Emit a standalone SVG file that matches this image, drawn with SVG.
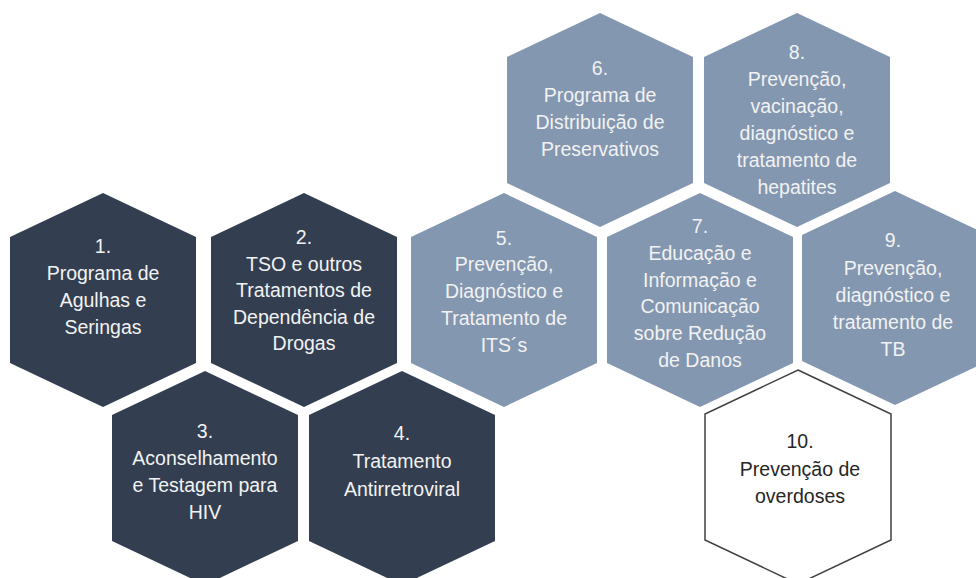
<svg xmlns="http://www.w3.org/2000/svg" xmlns:xlink="http://www.w3.org/1999/xlink" width="976" height="578" viewBox="0 0 976 578">
<defs>
<polygon id="hex" points="0,-107 93,-63 93,63 0,107 -93,63 -93,-63"/>
<style>
.dark{fill:#333f50}
.light{fill:#8497b0}
.open{fill:#ffffff;stroke:#404040;stroke-width:1.5}
text{font-family:"Liberation Sans",Arial,sans-serif;font-size:19.5px;text-anchor:middle}
.tl{fill:#f2f2f2}
.td{fill:#262626}
</style>
</defs>
<rect width="976" height="578" fill="#ffffff"/>
<g id="connectors"></g>
<g id="node1">
<use xlink:href="#hex" href="#hex" class="dark" transform="translate(103,300)"/>
<text class="tl"><tspan x="103" y="253">1.</tspan><tspan x="103" y="280">Programa de</tspan><tspan x="103" y="307">Agulhas e</tspan><tspan x="103" y="334">Seringas</tspan></text>
</g>
<g id="node2">
<use xlink:href="#hex" href="#hex" class="dark" transform="translate(304,300)"/>
<text class="tl"><tspan x="304" y="244">2.</tspan><tspan x="304" y="270.5">TSO e outros</tspan><tspan x="304" y="297">Tratamentos de</tspan><tspan x="304" y="323.5">Dependência de</tspan><tspan x="304" y="350">Drogas</tspan></text>
</g>
<g id="node3">
<use xlink:href="#hex" href="#hex" class="dark" transform="translate(205,478)"/>
<text class="tl"><tspan x="205" y="438">3.</tspan><tspan x="205" y="465">Aconselhamento</tspan><tspan x="205" y="492">e Testagem para</tspan><tspan x="205" y="519">HIV</tspan></text>
</g>
<g id="node4">
<use xlink:href="#hex" href="#hex" class="dark" transform="translate(402,478)"/>
<text class="tl"><tspan x="402" y="440">4.</tspan><tspan x="402" y="468">Tratamento</tspan><tspan x="402" y="496">Antirretroviral</tspan></text>
</g>
<g id="node5">
<use xlink:href="#hex" href="#hex" class="light" transform="translate(504,300)"/>
<text class="tl"><tspan x="504" y="245">5.</tspan><tspan x="504" y="271">Prevenção,</tspan><tspan x="504" y="298">Diagnóstico e</tspan><tspan x="504" y="325">Tratamento de</tspan><tspan x="504" y="352">ITS´s</tspan></text>
</g>
<g id="node6">
<use xlink:href="#hex" href="#hex" class="light" transform="translate(600,120)"/>
<text class="tl"><tspan x="600" y="75">6.</tspan><tspan x="600" y="102">Programa de</tspan><tspan x="600" y="129">Distribuição de</tspan><tspan x="600" y="156">Preservativos</tspan></text>
</g>
<g id="node7">
<use xlink:href="#hex" href="#hex" class="light" transform="translate(700,300)"/>
<text class="tl"><tspan x="700" y="233">7.</tspan><tspan x="700" y="260">Educação e</tspan><tspan x="700" y="287">Informação e</tspan><tspan x="700" y="313">Comunicação</tspan><tspan x="700" y="340">sobre Redução</tspan><tspan x="700" y="367">de Danos</tspan></text>
</g>
<g id="node8">
<use xlink:href="#hex" href="#hex" class="light" transform="translate(797,120)"/>
<text class="tl"><tspan x="797" y="59">8.</tspan><tspan x="797" y="86">Prevenção,</tspan><tspan x="797" y="113">vacinação,</tspan><tspan x="797" y="140">diagnóstico e</tspan><tspan x="797" y="167">tratamento de</tspan><tspan x="797" y="194">hepatites</tspan></text>
</g>
<g id="node9">
<use xlink:href="#hex" href="#hex" class="light" transform="translate(895,298)"/>
<text class="tl"><tspan x="893" y="247">9.</tspan><tspan x="893" y="275">Prevenção,</tspan><tspan x="893" y="302">diagnóstico e</tspan><tspan x="893" y="329">tratamento de</tspan><tspan x="893" y="356">TB</tspan></text>
</g>
<g id="node10">
<use xlink:href="#hex" href="#hex" class="open" transform="translate(798,477)"/>
<text class="td"><tspan x="800" y="448">10.</tspan><tspan x="800" y="476">Prevenção de</tspan><tspan x="800" y="503">overdoses</tspan></text>
</g>
</svg>
